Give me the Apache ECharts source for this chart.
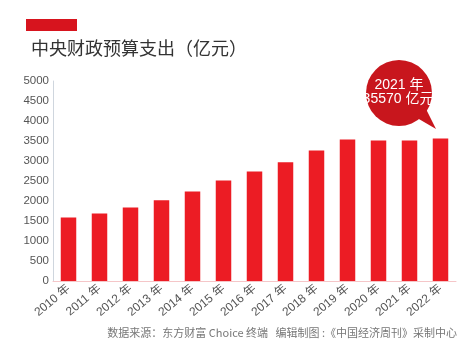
<!DOCTYPE html>
<html>
<head>
<meta charset="utf-8">
<script src="https://cdn.jsdelivr.net/npm/echarts@6/dist/echarts.min.js"></script>
<style>html,body{margin:0;padding:0;background:#fff;}#c{width:474px;height:360px;}</style>
</head>
<body>
<div id="c"></div>
<script>
var categories = ['2010 年','2011 年','2012 年','2013 年','2014 年','2015 年','2016 年','2017 年','2018 年','2019 年','2020 年','2021 年','2022 年'];
var values = [1590, 1690, 1840, 2020, 2240, 2510, 2740, 2970, 3260, 3540, 3510, 3510, 3560];
var titleText = '中央财政预算支出（亿元）';
var calloutLines = ['2021 年', '35570 亿元'];
var sourceText = '数据来源：东方财富 Choice 终端   编辑制图 :《中国经济周刊》采制中心';

var chart = echarts.init(document.getElementById('c'), null, {renderer: 'canvas'});
var font = '"Liberation Sans", "Noto Sans CJK SC", sans-serif';
chart.setOption({
  backgroundColor: '#fff',
  animation: false,
  title: {
    text: titleText,
    left: 26, top: 34,
    textStyle: {fontFamily: '"Noto Sans CJK SC", sans-serif', fontSize: 18, fontWeight: 'normal', color: '#333'}
  },
  grid: {left: 53, right: 18, top: 81, bottom: 79, containLabel: false},
  xAxis: {
    type: 'category',
    data: categories,
    axisLine: {show: true, lineStyle: {color: '#f5c6c8', width: 1}},
    axisTick: {show: false},
    axisLabel: {rotate: 40, margin: 6, color: '#555', fontSize: 12, fontFamily: font, interval: 0}
  },
  yAxis: {
    type: 'value',
    min: 0, max: 5000, interval: 500,
    axisLine: {show: true, lineStyle: {color: '#cfd6de', width: 1}},
    axisTick: {show: false},
    splitLine: {show: false},
    axisLabel: {color: '#555', fontSize: 11.5, fontFamily: font, margin: 4, padding: [0, 0, 6, 0],
      formatter: function (v) { return String(v); }}
  },
  series: [{
    type: 'bar',
    data: values,
    barWidth: '50%',
    itemStyle: {color: '#ec1c24'}
  }],
  graphic: [
    {type: 'rect', shape: {x: 26, y: 19, width: 51, height: 12}, style: {fill: '#d7141e'}},
    {type: 'polygon', shape: {points: [[412, 115], [436, 129], [424, 105]]}, style: {fill: '#c8161d'}},
    {type: 'circle', shape: {cx: 399, cy: 93, r: 33}, style: {fill: '#c8161d'}},
    {type: 'text', style: {text: calloutLines[0], x: 399, y: 85, align: 'center', verticalAlign: 'middle', fill: '#fff', font: '14px "Liberation Sans", "Noto Sans CJK SC", sans-serif'}},
    {type: 'text', style: {text: calloutLines[1], x: 398, y: 99, align: 'center', verticalAlign: 'middle', fill: '#fff', font: '14px "Liberation Sans", "Noto Sans CJK SC", sans-serif'}},
    {type: 'text', style: {text: sourceText, x: 457, y: 333, align: 'right', verticalAlign: 'middle', fill: '#777', font: '11px "Noto Sans CJK SC", sans-serif'}}
  ]
});
</script>
</body>
</html>
